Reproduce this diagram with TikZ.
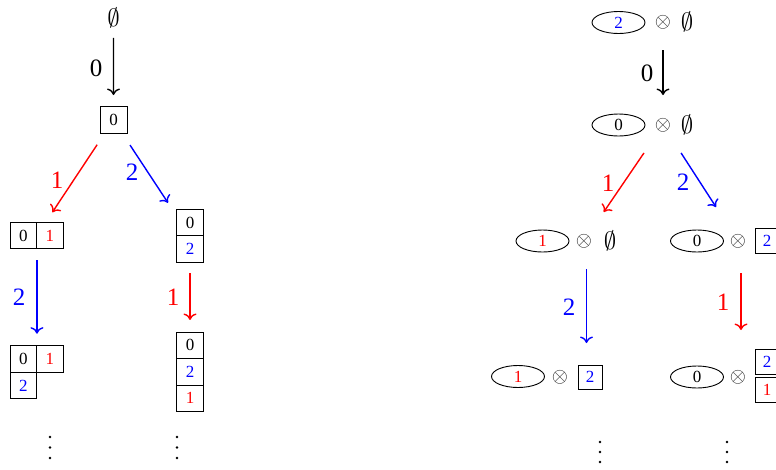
\documentclass[tikz,border=0pt]{standalone}
\usepackage{fontspec}
\setmainfont{Liberation Serif}
\usetikzlibrary{arrows.meta,shapes.geometric,calc}
\begin{document}
\begin{tikzpicture}[x=1pt,y=-1pt,
 cell/.style={draw,line width=0.9pt,minimum width=26.5pt,minimum height=26.5pt,inner sep=0pt,font=\fontsize{17}{17}\selectfont},
 rcell/.style={cell,minimum width=24pt,minimum height=25pt},
 ell/.style={draw,ellipse,line width=0.9pt,minimum width=53pt,minimum height=22pt,inner sep=0pt,font=\fontsize{17}{17}\selectfont},
 lab/.style={inner sep=0pt,font=\fontsize{25}{25}\selectfont},
 emp/.style={inner sep=0pt,font=\fontsize{27}{27}\selectfont},
 ot/.style={inner sep=0pt,font=\fontsize{21}{21}\selectfont,text=black!85},
 arr/.style={line width=1.4pt,-{To[length=6.5pt,width=13pt]}},
 vdot/.style={circle,fill,inner sep=0pt,minimum size=2.8pt}]
\clip (0,0) rectangle (776,469);
% ---------------- left tree ----------------
\node[emp] (n0) at (113.5,18) {$\emptyset$};
\node[cell,minimum size=27pt] (b0) at (113.5,120) {0};
\draw[arr] ($(n0)!0.196!(b0)$) -- ($(n0)!0.755!(b0)$);
\node[lab] (l0) at (96,68) {0};

\node[cell] (r1a) at (23.25,235.5) {0};
\node[cell,text=red] (r1b) at (49.75,235.5) {1};
\node[cell] (c1a) at (190,222.5) {0};
\node[cell,text=blue] (c1b) at (190,249) {2};

\draw[arr,red] ($(b0)!0.214!(r1a.east)$) -- ($(b0)!0.799!(r1a.east)$);
\node[lab,text=red] (l1) at (57,180) {1};
\draw[arr,blue] ($(b0)!0.216!(c1a.south)$) -- ($(b0)!0.712!(c1a.south)$);
\node[lab,text=blue] (l2) at (132,172) {2};

\node[cell] (t2a) at (23.25,359) {0};
\node[cell,text=red] (t2b) at (49.75,359) {1};
\node[cell,text=blue] (t2c) at (23.25,385.5) {2};
\node[cell] (c2a) at (190,345.25) {0};
\node[cell,text=blue] (c2b) at (190,371.75) {2};
\node[cell,text=red] (c2c) at (190,398.25) {1};

\draw[arr,blue] ($(r1a.south east)!0.116!(t2a.north east)$) -- ($(r1a.south east)!0.879!(t2a.north east)$);
\node[lab,text=blue] (l3) at (19,297) {2};
\draw[arr,red] ($(c1b.south)!0.154!(c2a.north)$) -- ($(c1b.south)!0.832!(c2a.north)$);
\node[lab,text=red] (l4) at (173,297) {1};

\node[vdot] (d1) at (50,437) {};
\node[vdot] (d2) at (50,447.5) {};
\node[vdot] (d3) at (50,458) {};
\node[vdot] (d4) at (177,437) {};
\node[vdot] (d5) at (177,447.5) {};
\node[vdot] (d6) at (177,458) {};

% ---------------- right tree ----------------
\node[ell,text=blue] (e0) at (618.5,22.5) {2};
\node[ot] (o0) at (663,22) {$\otimes$};
\node[emp] (m0) at (687,22) {$\emptyset$};

\node[ell] (e1) at (618.5,125) {0};
\node[ot] (o1) at (663,125) {$\otimes$};
\node[emp] (m1) at (687,125) {$\emptyset$};
\draw[arr] ($(o0)!0.272!(o1)$) -- ($(o0)!0.709!(o1)$);
\node[lab] (rl0) at (647,73) {0};

\node[ell,text=red] (e2) at (542.5,241) {1};
\node[ot] (o2) at (584,241) {$\otimes$};
\node[emp] (m2) at (610,241) {$\emptyset$};

\node[ell] (e3) at (697,241) {0};
\node[ot] (o3) at (738,241) {$\otimes$};
\node[rcell,text=blue] (q3) at (767,240.5) {2};

\draw[arr,red] ($(o1)!0.241!(o2)$) -- ($(o1)!0.75!(o2)$);
\node[lab,text=red] (rl1) at (608,183) {1};
\draw[arr,blue] ($(o1)!0.241!(o3)$) -- ($(o1)!0.707!(o3)$);
\node[lab,text=blue] (rl2) at (683,182) {2};

\node[ell,text=red] (e4) at (518,376.5) {1};
\node[ot] (o4) at (560,377) {$\otimes$};
\node[rcell,text=blue,minimum height=24pt] (q4) at (590,377) {2};

\node[ell] (e5) at (697,377) {0};
\node[ot] (o5) at (738,377) {$\otimes$};
\node[rcell,text=blue] (q5a) at (767,362) {2};
\node[rcell,text=red] (q5b) at (767,389.5) {1};

\draw[arr,blue] ($(o2)+(2.5,28)$) -- ($(o2)+(2.5,102)$);
\node[lab,text=blue] (rl3) at (569,307) {2};
\draw[arr,red] ($(o3)+(3,32)$) -- ($(o3)+(3,89)$);
\node[lab,text=red] (rl4) at (723,302) {1};

\node[vdot] (f1) at (600,442) {};
\node[vdot] (f2) at (600,452) {};
\node[vdot] (f3) at (600,462) {};
\node[vdot] (f4) at (727,442) {};
\node[vdot] (f5) at (727,452) {};
\node[vdot] (f6) at (727,462) {};
\end{tikzpicture}
\end{document}
